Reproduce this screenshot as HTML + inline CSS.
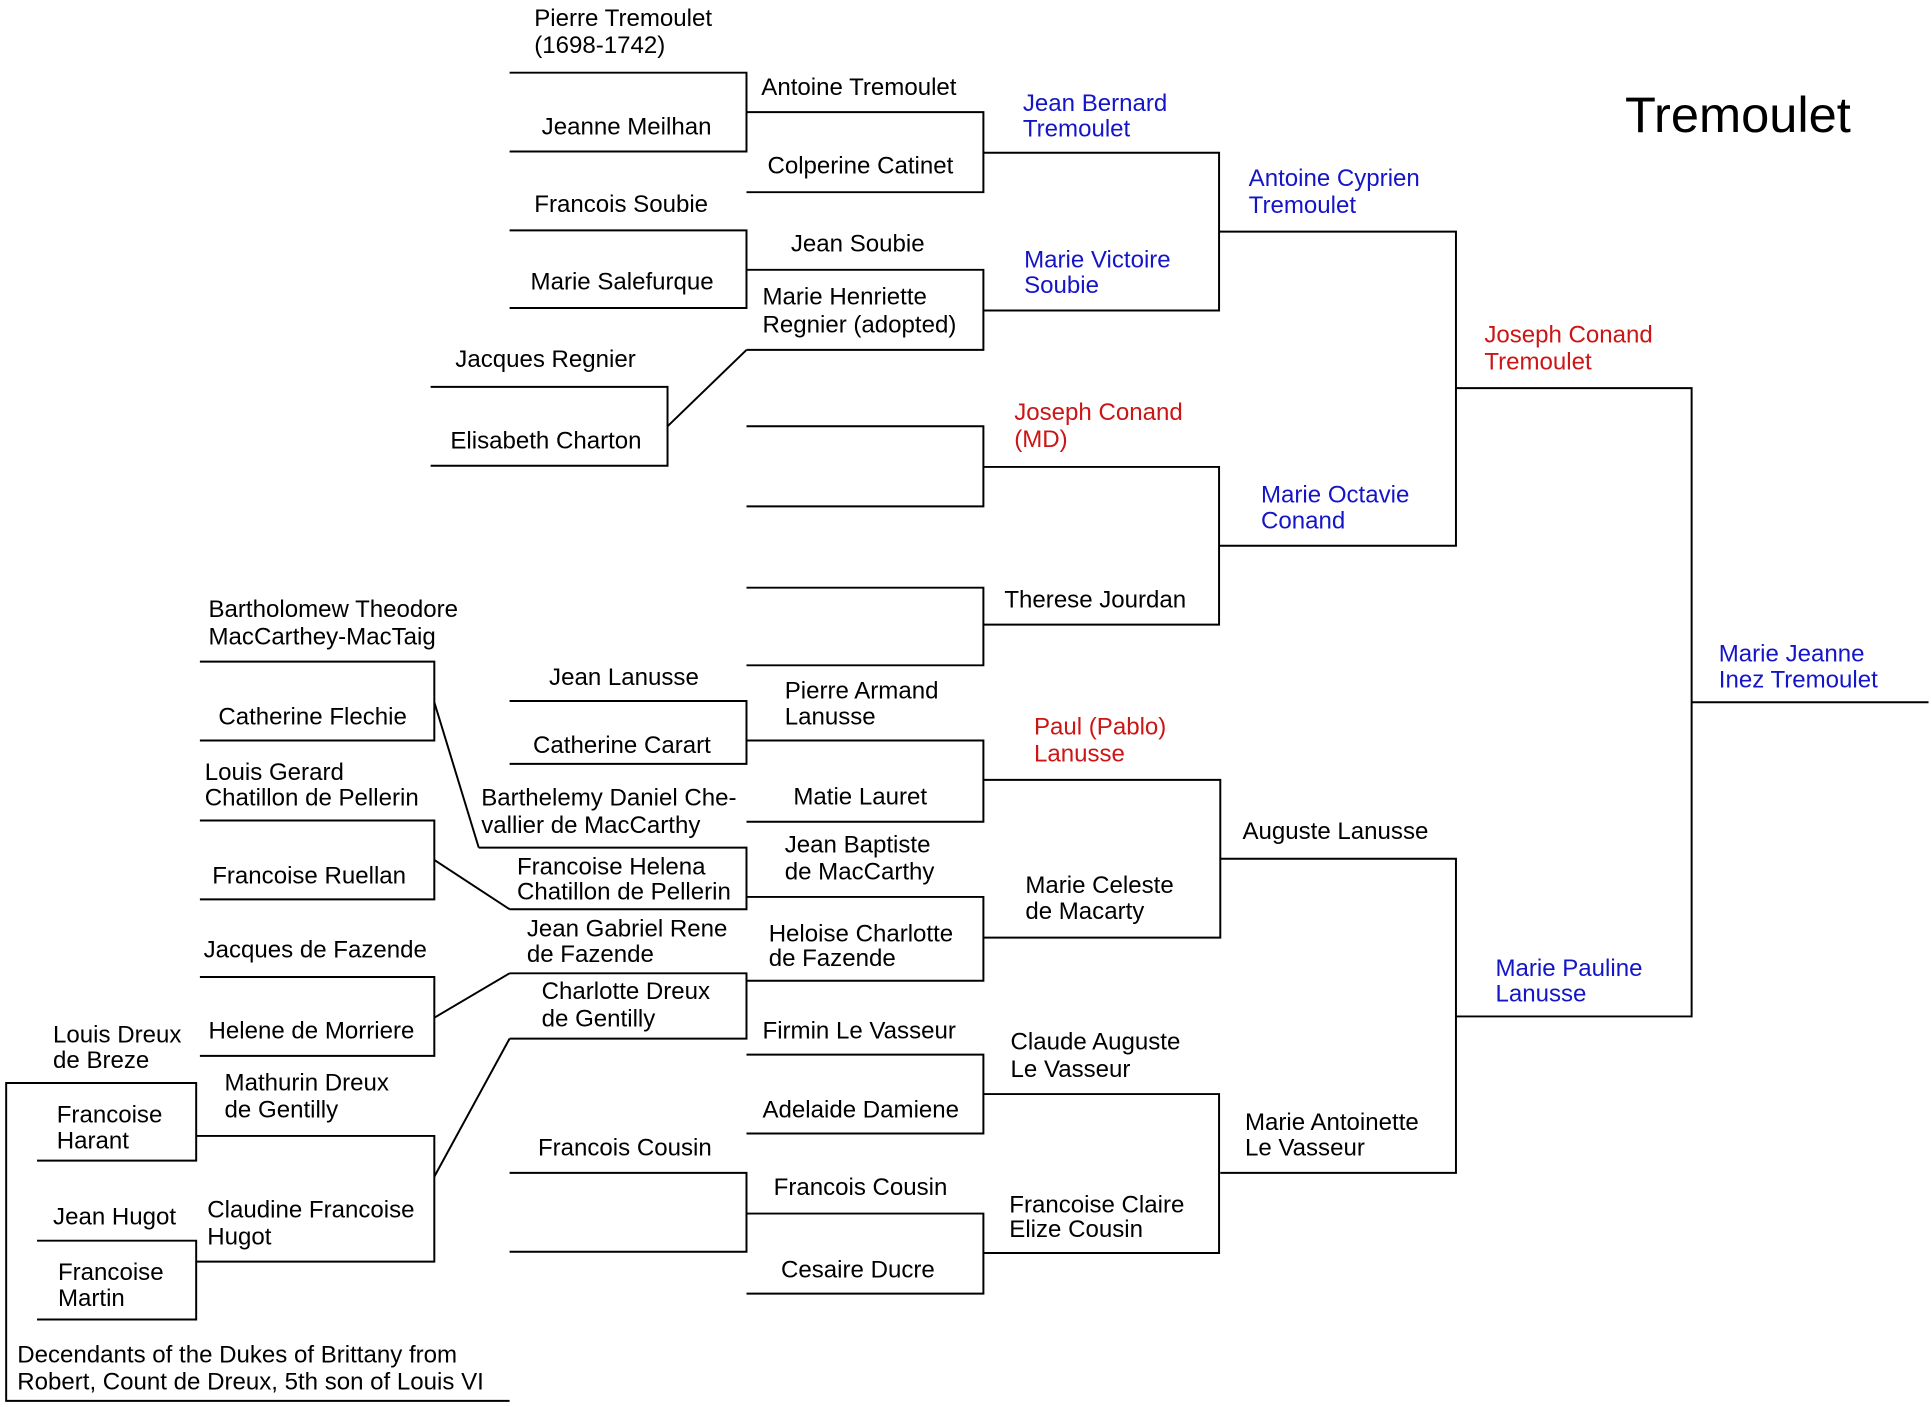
<!DOCTYPE html>
<html><head><meta charset="utf-8"><style>
html,body{margin:0;padding:0;background:#fff;}
svg{display:block;}
text{font-family:"Liberation Sans",Arial,sans-serif;font-size:19.5px;fill:#000;}
.b{fill:#1515c8;} .r{fill:#cc1515;}
</style></head><body>
<svg width="1931" height="1407" viewBox="0 0 1565 1142" preserveAspectRatio="none" xmlns="http://www.w3.org/2000/svg">
<g stroke="#000" stroke-width="1.6" fill="none">
<path d="M413 59H605V123H413"/>
<path d="M605 91H797V156H605"/>
<path d="M797 124H988V252H797"/>
<path d="M988 188H1180V443H988"/>
<path d="M1180 315H1371V825H1180"/>
<path d="M1371 570H1563"/>
<path d="M413 187H605V250H413"/>
<path d="M605 219H797V284H605"/>
<path d="M349 314H541V378H349"/>
<path d="M541 346L605 284"/>
<path d="M797 379H988V507H797"/>
<path d="M605 346H797V411H605"/>
<path d="M605 477H797V540H605"/>
<path d="M413 569H605V620H413"/>
<path d="M605 601H797V667H605"/>
<path d="M797 633H989V761H797"/>
<path d="M989 697H1180V952H989"/>
<path d="M605 728H797V796H605"/>
<path d="M388 688H605V738H413"/>
<path d="M162 537H352V601H162"/>
<path d="M352 570L388 688"/>
<path d="M162 666H352V730H162"/>
<path d="M352 698L413 738"/>
<path d="M413 790H605V843H413"/>
<path d="M162 793H352V857H162"/>
<path d="M352 826L413 790"/>
<path d="M159 922H352V1024H159"/>
<path d="M352 955L413 843"/>
<path d="M30 942H159V879H5V1137H413"/>
<path d="M30 1007H159V1071H30"/>
<path d="M605 856H797V920H605"/>
<path d="M797 888H988V1017H797"/>
<path d="M413 952H605V1016H413"/>
<path d="M605 985H797V1050H605"/>
</g>
<text x="1317" y="107" style="font-size:41px">Tremoulet</text>
<text x="433" y="21">Pierre Tremoulet</text><text x="433" y="43">(1698-1742)</text>
<text x="617" y="77">Antoine Tremoulet</text>
<text x="439" y="109">Jeanne Meilhan</text>
<text x="622" y="141">Colperine Catinet</text>
<text class="b" x="829" y="90">Jean Bernard</text><text class="b" x="829" y="111">Tremoulet</text>
<text x="433" y="172">Francois Soubie</text>
<text class="b" x="1012" y="151">Antoine Cyprien</text><text class="b" x="1012" y="173">Tremoulet</text>
<text x="641" y="204">Jean Soubie</text>
<text class="b" x="830" y="217">Marie Victoire</text><text class="b" x="830" y="238">Soubie</text>
<text x="430" y="235">Marie Salefurque</text>
<text x="618" y="247">Marie Henriette</text><text x="618" y="270">Regnier (adopted)</text>
<text class="r" x="1203" y="278">Joseph Conand</text><text class="r" x="1203" y="300">Tremoulet</text>
<text x="369" y="298">Jacques Regnier</text>
<text class="r" x="822" y="341">Joseph Conand</text><text class="r" x="822" y="363">(MD)</text>
<text x="365" y="364">Elisabeth Charton</text>
<text class="b" x="1022" y="408">Marie Octavie</text><text class="b" x="1022" y="429">Conand</text>
<text x="814" y="493">Therese Jourdan</text>
<text x="169" y="501">Bartholomew Theodore</text><text x="169" y="523">MacCarthey-MacTaig</text>
<text class="b" x="1393" y="537">Marie Jeanne</text><text class="b" x="1393" y="558">Inez Tremoulet</text>
<text x="445" y="556">Jean Lanusse</text>
<text x="636" y="567">Pierre Armand</text><text x="636" y="588">Lanusse</text>
<text x="177" y="588">Catherine Flechie</text>
<text class="r" x="838" y="596">Paul (Pablo)</text><text class="r" x="838" y="618">Lanusse</text>
<text x="432" y="611">Catherine Carart</text>
<text x="166" y="633">Louis Gerard</text><text x="166" y="654">Chatillon de Pellerin</text>
<text x="390" y="654">Barthelemy Daniel Che-</text><text x="390" y="676">vallier de MacCarthy</text>
<text x="643" y="653">Matie Lauret</text>
<text x="1007" y="681">Auguste Lanusse</text>
<text x="636" y="692">Jean Baptiste</text><text x="636" y="714">de MacCarthy</text>
<text x="419" y="710">Francoise Helena</text><text x="419" y="730">Chatillon de Pellerin</text>
<text x="172" y="717">Francoise Ruellan</text>
<text x="831" y="725">Marie Celeste</text><text x="831" y="746">de Macarty</text>
<text x="427" y="760">Jean Gabriel Rene</text><text x="427" y="781">de Fazende</text>
<text x="623" y="764">Heloise Charlotte</text><text x="623" y="784">de Fazende</text>
<text x="165" y="777">Jacques de Fazende</text>
<text class="b" x="1212" y="792">Marie Pauline</text><text class="b" x="1212" y="813">Lanusse</text>
<text x="439" y="811">Charlotte Dreux</text><text x="439" y="833">de Gentilly</text>
<text x="618" y="843">Firmin Le Vasseur</text>
<text x="169" y="843">Helene de Morriere</text>
<text x="43" y="846">Louis Dreux</text><text x="43" y="867">de Breze</text>
<text x="819" y="852">Claude Auguste</text><text x="819" y="874">Le Vasseur</text>
<text x="182" y="885">Mathurin Dreux</text><text x="182" y="907">de Gentilly</text>
<text x="46" y="911">Francoise</text><text x="46" y="932">Harant</text>
<text x="618" y="907">Adelaide Damiene</text>
<text x="1009" y="917">Marie Antoinette</text><text x="1009" y="938">Le Vasseur</text>
<text x="436" y="938">Francois Cousin</text>
<text x="627" y="970">Francois Cousin</text>
<text x="818" y="984">Francoise Claire</text><text x="818" y="1004">Elize Cousin</text>
<text x="168" y="988">Claudine Francoise</text><text x="168" y="1010">Hugot</text>
<text x="43" y="994">Jean Hugot</text>
<text x="47" y="1039">Francoise</text><text x="47" y="1060">Martin</text>
<text x="633" y="1037">Cesaire Ducre</text>
<text x="14" y="1106">Decendants of the Dukes of Brittany from</text>
<text x="14" y="1128">Robert, Count de Dreux, 5th son of Louis VI</text>
</svg>
</body></html>
